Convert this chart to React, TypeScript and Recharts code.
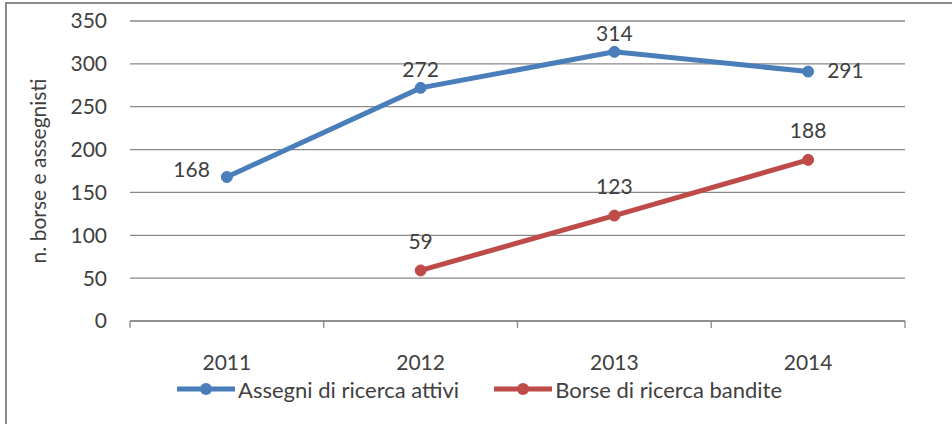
import * as React from "react";
import {
  LineChart,
  Line,
  XAxis,
  YAxis,
  CartesianGrid,
  Legend,
  LabelList,
} from "recharts";

const years = ["2011", "2012", "2013", "2014"];
const assegni = [168, 272, 314, 291];
const borse = [null, 59, 123, 188];
const yTicks = [0, 50, 100, 150, 200, 250, 300, 350];

const data = years.map((y, i) => ({
  year: y,
  assegni: assegni[i],
  borse: borse[i],
}));

const FONT = "Lato, 'Open Sans', sans-serif";
const TEXT = "#404040";
const GRID = "#898989";
const BLUE = "#4A7EBB";
const RED = "#BE4B48";

// where each data label sits relative to its point
const blueLabelPos = ["left", "top", "top", "right"];
const redLabelPos = ["top", "top", "top", "top"];

function makeLabel(pos: string[], topGap: number) {
  return function DataLabel(props: any) {
    const { x, y, value, index } = props;
    if (value == null) return null;
    const p = pos[index];
    let tx = x;
    let ty = y - topGap;
    let anchor = "middle";
    if (p === "left") {
      tx = x - 17;
      ty = y - 9;
      anchor = "end";
    } else if (p === "right") {
      tx = x + 19;
      ty = y - 2;
      anchor = "start";
    }
    return (
      <text
        x={tx}
        y={ty}
        textAnchor={anchor}
        dominantBaseline="central"
        fontFamily={FONT}
        fontSize={21}
        fill={TEXT}
      >
        {value}
      </text>
    );
  };
}

function XTick(props: any) {
  const { x, y, payload, index, visibleTicksCount } = props;
  const half = payload && payload.offset ? payload.offset : 775 / 8;
  const last = index === (visibleTicksCount || years.length) - 1;
  return (
    <g>
      <line x1={x - half} y1={y} x2={x - half} y2={y + 7} stroke={GRID} strokeWidth={1.3} />
      {last && (
        <line x1={x + half} y1={y} x2={x + half} y2={y + 7} stroke={GRID} strokeWidth={1.3} />
      )}
      <text
        x={x}
        y={y + 40}
        textAnchor="middle"
        dominantBaseline="central"
        fontFamily={FONT}
        fontSize={21}
        fill={TEXT}
      >
        {payload.value}
      </text>
    </g>
  );
}

function YTitle(props: any) {
  const vb = props.viewBox || { x: 0, y: 21, width: 130, height: 300 };
  const cx = vb.x + 37;
  const cy = vb.y + vb.height / 2;
  return (
    <text
      x={cx}
      y={cy}
      transform={`rotate(-90, ${cx}, ${cy})`}
      textAnchor="middle"
      dominantBaseline="central"
      fontFamily={FONT}
      fontSize={21}
      fill={TEXT}
    >
      n. borse e assegnisti
    </text>
  );
}

function LegendItem({ color, text }: { color: string; text: string }) {
  return (
    <div style={{ display: "flex", alignItems: "center" }}>
      <svg width={58} height={14}>
        <line x1={0} y1={7} x2={58} y2={7} stroke={color} strokeWidth={5} />
        <circle cx={29} cy={7} r={6} fill={color} />
      </svg>
      <span style={{ marginLeft: 3, fontFamily: FONT, fontSize: 22, color: TEXT, whiteSpace: "nowrap" }}>
        {text}
      </span>
    </div>
  );
}

function LegendContent() {
  return (
    <div style={{ display: "flex", alignItems: "center", height: 30, paddingTop: 6, boxSizing: "border-box" }}>
      <LegendItem color={BLUE} text="Assegni di ricerca attivi" />
      <div style={{ width: 35 }} />
      <LegendItem color={RED} text="Borse di ricerca bandite" />
    </div>
  );
}

export default function App() {
  return (
    <div style={{ position: "absolute", left: 0, top: 0, width: 952, height: 424, overflow: "hidden", background: "#fff" }}>
      <div
        style={{
          position: "absolute",
          left: 5,
          top: 2,
          width: 970,
          height: 450,
          border: `2px solid ${GRID}`,
        }}
      />
      <LineChart
        width={952}
        height={424}
        data={data}
        margin={{ top: 21, right: 47, left: 0, bottom: 23 }}
      >
        <CartesianGrid vertical={false} stroke={GRID} strokeWidth={1.3} />
        <XAxis
          dataKey="year"
          scale="band"
          height={50}
          axisLine={{ stroke: GRID, strokeWidth: 1.3 }}
          tickLine={false}
          tickSize={0}
          tickMargin={0}
          tick={<XTick />}
          interval={0}
        />
        <YAxis
          width={130}
          domain={[0, 350]}
          ticks={yTicks}
          axisLine={false}
          tickLine={false}
          tickSize={0}
          tickMargin={23}
          tick={{ fontFamily: FONT, fontSize: 21, fill: TEXT }}
          label={{ content: <YTitle /> }}
        />
        <Legend
          verticalAlign="bottom"
          height={30}
          width={650}
          wrapperStyle={{ left: 177 }}
          content={<LegendContent />}
        />
        <Line
          dataKey="assegni"
          name="Assegni di ricerca attivi"
          stroke={BLUE}
          strokeWidth={5}
          dot={{ r: 5.5, fill: BLUE, stroke: BLUE, strokeWidth: 1 }}
          activeDot={false}
          isAnimationActive={false}
        >
          <LabelList dataKey="assegni" content={makeLabel(blueLabelPos, 19)} />
        </Line>
        <Line
          dataKey="borse"
          name="Borse di ricerca bandite"
          stroke={RED}
          strokeWidth={5}
          dot={{ r: 5.5, fill: RED, stroke: RED, strokeWidth: 1 }}
          activeDot={false}
          isAnimationActive={false}
        >
          <LabelList dataKey="borse" content={makeLabel(redLabelPos, 30)} />
        </Line>
      </LineChart>
    </div>
  );
}
